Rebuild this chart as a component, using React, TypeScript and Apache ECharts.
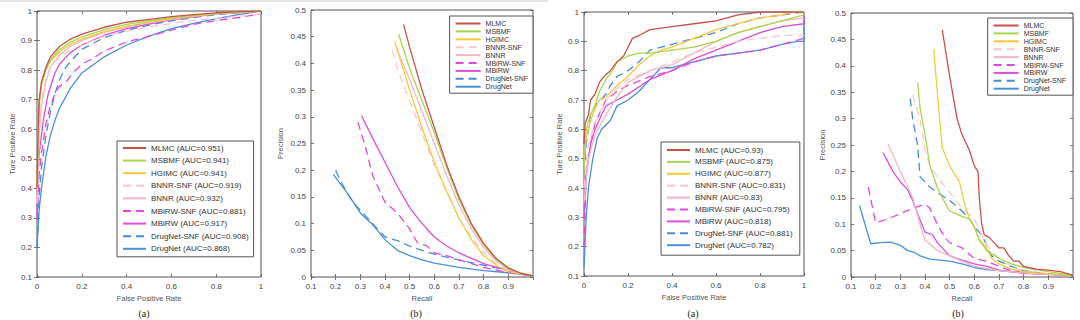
import React, { useEffect, useRef } from "react";
import * as echarts from "echarts";

const methods = ["MLMC", "MSBMF", "HGIMC", "BNNR-SNF", "BNNR", "MBiRW-SNF", "MBiRW", "DrugNet-SNF", "DrugNet"];
const colors = ["#c8504b", "#a8d64c", "#f5c83e", "#f5c8cf", "#f3b6c4", "#e347de", "#dd4fd8", "#4a8ad6", "#4b90d9"];
const dashed = [false, false, false, true, false, true, false, true, false];
const aucLeft = ["0.951", "0.941", "0.941", "0.919", "0.932", "0.881", "0.917", "0.908", "0.868"];
const aucRight = ["0.93", "0.875", "0.877", "0.831", "0.83", "0.795", "0.818", "0.881", "0.782"];

// Panel 1: ROC (left dataset)
const rocL_MLMC = [[0,0.4],[0.005,0.6],[0.01,0.7],[0.02,0.76],[0.04,0.81],[0.06,0.845],[0.1,0.88],[0.15,0.905],[0.2,0.922],[0.3,0.945],[0.4,0.962],[0.5,0.972],[0.6,0.981],[0.7,0.988],[0.8,0.994],[0.9,0.998],[1,1]];
const rocL_MSBMF = [[0,0.4],[0.005,0.58],[0.01,0.68],[0.02,0.75],[0.04,0.8],[0.06,0.835],[0.1,0.87],[0.15,0.895],[0.2,0.912],[0.3,0.937],[0.4,0.955],[0.5,0.967],[0.6,0.977],[0.7,0.985],[0.8,0.992],[0.9,0.997],[1,1]];
const rocL_HGIMC = [[0,0.4],[0.005,0.6],[0.01,0.69],[0.02,0.755],[0.04,0.8],[0.06,0.83],[0.1,0.862],[0.15,0.888],[0.2,0.905],[0.3,0.93],[0.4,0.948],[0.5,0.962],[0.6,0.974],[0.7,0.984],[0.8,0.991],[0.9,0.996],[1,1]];
const rocL_BNNRSNF = [[0,0.35],[0.01,0.6],[0.02,0.7],[0.04,0.77],[0.06,0.81],[0.1,0.845],[0.15,0.87],[0.2,0.885],[0.3,0.915],[0.4,0.932],[0.5,0.946],[0.6,0.958],[0.7,0.968],[0.8,0.975],[0.9,0.982],[1,0.99]];
const rocL_BNNR = [[0,0.35],[0.01,0.58],[0.02,0.68],[0.04,0.76],[0.06,0.81],[0.1,0.85],[0.15,0.88],[0.2,0.9],[0.3,0.928],[0.4,0.946],[0.5,0.96],[0.6,0.972],[0.7,0.982],[0.8,0.99],[0.9,0.996],[1,1]];
const rocL_MBiRWSNF = [[0,0.3],[0.01,0.45],[0.02,0.52],[0.04,0.62],[0.06,0.68],[0.08,0.72],[0.1,0.745],[0.13,0.76],[0.16,0.79],[0.2,0.82],[0.25,0.84],[0.3,0.865],[0.4,0.895],[0.5,0.915],[0.6,0.935],[0.7,0.955],[0.8,0.968],[0.9,0.978],[1,0.99]];
const rocL_MBiRW = [[0,0.3],[0.005,0.45],[0.01,0.52],[0.03,0.64],[0.05,0.72],[0.08,0.79],[0.1,0.82],[0.15,0.86],[0.2,0.885],[0.3,0.918],[0.4,0.94],[0.5,0.956],[0.6,0.97],[0.7,0.98],[0.8,0.99],[0.9,0.995],[1,1]];
const rocL_DrugNetSNF = [[0,0.2],[0.01,0.38],[0.02,0.47],[0.04,0.58],[0.06,0.66],[0.08,0.72],[0.1,0.765],[0.12,0.8],[0.15,0.83],[0.2,0.87],[0.3,0.91],[0.4,0.935],[0.5,0.952],[0.6,0.967],[0.7,0.978],[0.8,0.988],[0.9,0.995],[1,1]];
const rocL_DrugNet = [[0,0.2],[0.01,0.33],[0.02,0.4],[0.04,0.51],[0.06,0.58],[0.08,0.63],[0.1,0.67],[0.15,0.74],[0.2,0.79],[0.3,0.845],[0.4,0.885],[0.5,0.915],[0.6,0.94],[0.7,0.958],[0.8,0.974],[0.9,0.988],[1,1]];

// Panel 2: PR (left dataset)
const prL_MLMC = [[0.475,0.473],[0.5,0.43],[0.55,0.35],[0.6,0.28],[0.65,0.21],[0.7,0.15],[0.75,0.1],[0.8,0.063],[0.85,0.035],[0.9,0.017],[0.95,0.007],[1,0.002]];
const prL_MSBMF = [[0.455,0.455],[0.5,0.39],[0.55,0.33],[0.6,0.27],[0.65,0.205],[0.7,0.145],[0.75,0.097],[0.8,0.06],[0.85,0.033],[0.9,0.016],[0.95,0.007],[1,0.002]];
const prL_HGIMC = [[0.44,0.44],[0.5,0.35],[0.55,0.28],[0.6,0.215],[0.65,0.16],[0.7,0.11],[0.75,0.07],[0.8,0.04],[0.85,0.022],[0.9,0.01],[1,0.002]];
const prL_BNNRSNF = [[0.43,0.425],[0.45,0.39],[0.5,0.33],[0.55,0.27],[0.6,0.21],[0.65,0.16],[0.7,0.11],[0.75,0.075],[0.8,0.045],[0.85,0.025],[0.9,0.012],[1,0.002]];
const prL_BNNR = [[0.445,0.43],[0.5,0.37],[0.55,0.31],[0.6,0.25],[0.65,0.19],[0.7,0.135],[0.75,0.09],[0.8,0.055],[0.85,0.03],[0.9,0.014],[1,0.002]];
const prL_MBiRWSNF = [[0.29,0.29],[0.32,0.245],[0.35,0.19],[0.4,0.14],[0.45,0.12],[0.5,0.09],[0.53,0.065],[0.57,0.058],[0.6,0.045],[0.65,0.04],[0.7,0.032],[0.75,0.025],[0.8,0.018],[0.9,0.008],[1,0.002]];
const prL_MBiRW = [[0.305,0.302],[0.35,0.26],[0.4,0.215],[0.45,0.17],[0.5,0.13],[0.55,0.1],[0.6,0.075],[0.65,0.058],[0.7,0.045],[0.75,0.035],[0.8,0.025],[0.9,0.012],[1,0.002]];
const prL_DrugNetSNF = [[0.2,0.2],[0.22,0.18],[0.25,0.155],[0.27,0.14],[0.3,0.125],[0.35,0.1],[0.4,0.075],[0.45,0.068],[0.5,0.058],[0.55,0.05],[0.6,0.043],[0.65,0.037],[0.7,0.032],[0.8,0.022],[0.9,0.012],[1,0.002]];
const prL_DrugNet = [[0.19,0.192],[0.25,0.155],[0.3,0.12],[0.35,0.098],[0.4,0.07],[0.45,0.05],[0.5,0.04],[0.55,0.032],[0.6,0.026],[0.7,0.018],[0.8,0.012],[0.9,0.008],[1,0.002]];

// Panel 3: ROC (right dataset)
const rocR_MLMC = [[0,0.55],[0.005,0.62],[0.02,0.65],[0.03,0.7],[0.05,0.72],[0.07,0.76],[0.09,0.78],[0.12,0.8],[0.15,0.83],[0.18,0.85],[0.2,0.88],[0.22,0.91],[0.25,0.92],[0.3,0.94],[0.4,0.95],[0.5,0.96],[0.6,0.97],[0.7,0.99],[0.8,1],[1,1]];
const rocR_MSBMF = [[0,0.45],[0.01,0.6],[0.03,0.65],[0.05,0.68],[0.07,0.73],[0.1,0.77],[0.13,0.8],[0.15,0.83],[0.2,0.85],[0.25,0.86],[0.3,0.86],[0.4,0.87],[0.5,0.88],[0.6,0.9],[0.7,0.93],[0.8,0.95],[0.9,0.97],[1,0.99],[1,1]];
const rocR_HGIMC = [[0,0.5],[0.01,0.57],[0.03,0.63],[0.05,0.67],[0.07,0.7],[0.1,0.71],[0.15,0.75],[0.2,0.78],[0.25,0.82],[0.3,0.85],[0.35,0.87],[0.4,0.88],[0.5,0.91],[0.6,0.94],[0.7,0.96],[0.8,0.98],[0.9,0.99],[0.95,1],[1,1]];
const rocR_BNNRSNF = [[0,0.4],[0.02,0.55],[0.05,0.62],[0.1,0.7],[0.15,0.74],[0.2,0.77],[0.3,0.8],[0.4,0.83],[0.5,0.86],[0.6,0.88],[0.7,0.9],[0.8,0.91],[0.9,0.92],[1,0.92]];
const rocR_BNNR = [[0,0.35],[0.02,0.5],[0.05,0.58],[0.1,0.65],[0.15,0.71],[0.2,0.76],[0.3,0.8],[0.4,0.82],[0.5,0.86],[0.6,0.9],[0.7,0.93],[0.8,0.95],[0.9,0.97],[1,0.98]];
const rocR_MBiRWSNF = [[0,0.2],[0.01,0.45],[0.03,0.55],[0.05,0.62],[0.08,0.67],[0.1,0.7],[0.15,0.73],[0.2,0.75],[0.3,0.78],[0.4,0.8],[0.5,0.83],[0.6,0.85],[0.7,0.86],[0.8,0.87],[0.9,0.89],[1,0.91]];
const rocR_MBiRW = [[0,0.3],[0.01,0.45],[0.03,0.55],[0.05,0.6],[0.08,0.65],[0.1,0.68],[0.15,0.7],[0.2,0.72],[0.3,0.77],[0.4,0.8],[0.5,0.84],[0.6,0.87],[0.7,0.9],[0.8,0.93],[0.9,0.95],[1,0.96],[1,1]];
const rocR_DrugNetSNF = [[0,0.45],[0.01,0.55],[0.03,0.65],[0.05,0.68],[0.1,0.72],[0.12,0.75],[0.15,0.78],[0.2,0.8],[0.25,0.83],[0.3,0.87],[0.4,0.89],[0.5,0.91],[0.6,0.93],[0.7,0.96],[0.8,0.98],[0.9,0.99],[1,1]];
const rocR_DrugNet = [[0,0.13],[0.01,0.3],[0.02,0.4],[0.04,0.5],[0.06,0.57],[0.08,0.6],[0.12,0.63],[0.15,0.68],[0.2,0.7],[0.25,0.73],[0.3,0.77],[0.35,0.81],[0.4,0.81],[0.5,0.83],[0.6,0.85],[0.7,0.86],[0.8,0.87],[0.9,0.89],[0.97,0.9],[1,0.9],[1,1]];

// Panel 4: PR (right dataset)
const prR_MLMC = [[0.47,0.468],[0.5,0.38],[0.53,0.3],[0.55,0.27],[0.58,0.24],[0.6,0.21],[0.615,0.2],[0.62,0.15],[0.63,0.1],[0.64,0.08],[0.66,0.075],[0.68,0.065],[0.7,0.055],[0.72,0.055],[0.74,0.04],[0.76,0.03],[0.78,0.03],[0.8,0.02],[0.85,0.015],[0.9,0.013],[0.95,0.01],[1,0.003]];
const prR_MSBMF = [[0.37,0.368],[0.38,0.32],[0.4,0.27],[0.42,0.21],[0.45,0.17],[0.47,0.15],[0.5,0.125],[0.55,0.115],[0.58,0.11],[0.6,0.095],[0.62,0.07],[0.65,0.05],[0.7,0.035],[0.75,0.025],[0.8,0.018],[0.9,0.01],[1,0.003]];
const prR_HGIMC = [[0.435,0.432],[0.45,0.35],[0.47,0.245],[0.5,0.21],[0.54,0.18],[0.56,0.14],[0.58,0.11],[0.6,0.095],[0.62,0.07],[0.65,0.055],[0.67,0.035],[0.7,0.025],[0.75,0.015],[0.8,0.01],[0.9,0.006],[1,0.003]];
const prR_BNNRSNF = [[0.35,0.345],[0.38,0.3],[0.4,0.24],[0.42,0.21],[0.45,0.19],[0.5,0.16],[0.55,0.13],[0.6,0.11],[0.63,0.08],[0.65,0.06],[0.7,0.035],[0.75,0.02],[0.8,0.012],[0.9,0.006],[1,0.003]];
const prR_BNNR = [[0.25,0.252],[0.3,0.2],[0.35,0.15],[0.38,0.1],[0.4,0.07],[0.45,0.05],[0.5,0.04],[0.55,0.03],[0.6,0.02],[0.7,0.012],[0.8,0.008],[0.9,0.005],[1,0.003]];
const prR_MBiRWSNF = [[0.17,0.17],[0.2,0.103],[0.25,0.11],[0.3,0.12],[0.35,0.13],[0.4,0.138],[0.42,0.13],[0.45,0.1],[0.48,0.075],[0.5,0.065],[0.55,0.055],[0.6,0.035],[0.65,0.03],[0.7,0.02],[0.75,0.012],[0.8,0.008],[0.9,0.005],[1,0.003]];
const prR_MBiRW = [[0.23,0.235],[0.27,0.2],[0.3,0.18],[0.33,0.165],[0.35,0.145],[0.37,0.12],[0.4,0.085],[0.43,0.08],[0.45,0.065],[0.48,0.05],[0.5,0.04],[0.55,0.032],[0.6,0.025],[0.65,0.02],[0.7,0.013],[0.8,0.007],[0.9,0.005],[1,0.003]];
const prR_DrugNetSNF = [[0.34,0.338],[0.35,0.3],[0.37,0.25],[0.38,0.19],[0.42,0.17],[0.45,0.16],[0.5,0.145],[0.55,0.125],[0.58,0.11],[0.6,0.095],[0.63,0.08],[0.65,0.06],[0.67,0.04],[0.7,0.03],[0.75,0.02],[0.8,0.012],[0.9,0.006],[1,0.003]];
const prR_DrugNet = [[0.135,0.135],[0.18,0.063],[0.22,0.065],[0.26,0.066],[0.3,0.06],[0.33,0.05],[0.36,0.046],[0.38,0.04],[0.42,0.034],[0.46,0.032],[0.5,0.03],[0.55,0.025],[0.6,0.018],[0.65,0.014],[0.7,0.012],[0.8,0.008],[0.9,0.005],[1,0.003]];

const panelCurves = [
  [rocL_MLMC, rocL_MSBMF, rocL_HGIMC, rocL_BNNRSNF, rocL_BNNR, rocL_MBiRWSNF, rocL_MBiRW, rocL_DrugNetSNF, rocL_DrugNet],
  [prL_MLMC, prL_MSBMF, prL_HGIMC, prL_BNNRSNF, prL_BNNR, prL_MBiRWSNF, prL_MBiRW, prL_DrugNetSNF, prL_DrugNet],
  [rocR_MLMC, rocR_MSBMF, rocR_HGIMC, rocR_BNNRSNF, rocR_BNNR, rocR_MBiRWSNF, rocR_MBiRW, rocR_DrugNetSNF, rocR_DrugNet],
  [prR_MLMC, prR_MSBMF, prR_HGIMC, prR_BNNRSNF, prR_BNNR, prR_MBiRWSNF, prR_MBiRW, prR_DrugNetSNF, prR_DrugNet],
];

const FONT = "Liberation Sans, Arial, sans-serif";
const SERIF = "Liberation Serif, Times New Roman, serif";

export default function App() {
  const ref = useRef<HTMLDivElement>(null);
  useEffect(() => {
    if (!ref.current) return;
    const chart = echarts.init(ref.current, undefined, { renderer: "svg" });

    const grids = [
      { left: 37, top: 11, width: 224, height: 266 },
      { left: 311, top: 10, width: 222, height: 267 },
      { left: 584, top: 12, width: 220, height: 264 },
      { left: 851, top: 13, width: 222, height: 264 },
    ];
    const isRoc = [true, false, true, false];
    const yGaps = [21, 27, 20, 24];

    const seriesNames = (p: number) =>
      methods.map((m, i) =>
        p === 0 ? `${m} (AUC=${aucLeft[i]})` : p === 2 ? `${m} (AUC=${aucRight[i]}) ` : p === 1 ? m : `${m} `
      );

    const xAxes: any[] = [];
    const yAxes: any[] = [];
    const labelStyle = { fontSize: 8, color: "#444", fontFamily: FONT };
    const tick = { show: true, inside: true, length: 3, lineStyle: { color: "#555", width: 0.8 } };
    for (let p = 0; p < 4; p++) {
      const xr = isRoc[p] ? { min: 0, max: 1, interval: 0.2 } : { min: 0.1, max: 1, interval: 0.1 };
      const yr = isRoc[p] ? { min: 0.1, max: 1, interval: 0.1 } : { min: 0, max: 0.5, interval: 0.05 };
      xAxes.push({
        type: "value", gridIndex: p, ...xr, position: "bottom",
        axisLine: { show: false }, axisTick: tick, splitLine: { show: false },
        axisLabel: { ...labelStyle, margin: 5, showMaxLabel: isRoc[p] },
        name: isRoc[p] ? "False Positive Rate" : "Recall",
        nameLocation: "middle", nameGap: 17,
        nameTextStyle: { fontSize: 7.5, color: "#555", fontFamily: FONT },
      });
      yAxes.push({
        type: "value", gridIndex: p, ...yr, position: "left",
        axisLine: { show: false }, axisTick: tick, splitLine: { show: false },
        axisLabel: { ...labelStyle, margin: 5 },
        name: isRoc[p] ? "Ture Positive Rate" : "Precision",
        nameLocation: "middle", nameGap: yGaps[p], nameRotate: 90,
        nameTextStyle: { fontSize: 7.5, color: "#555", fontFamily: FONT },
      });
    }
    for (let p = 0; p < 4; p++) {
      const xr = isRoc[p] ? { min: 0, max: 1, interval: 0.2 } : { min: 0.1, max: 1, interval: 0.1 };
      const yr = isRoc[p] ? { min: 0.1, max: 1, interval: 0.1 } : { min: 0, max: 0.5, interval: 0.05 };
      xAxes.push({
        type: "value", gridIndex: p, ...xr, position: "top",
        axisLine: { show: false }, axisTick: tick, splitLine: { show: false }, axisLabel: { show: false },
      });
      yAxes.push({
        type: "value", gridIndex: p, ...yr, position: "right",
        axisLine: { show: false }, axisTick: tick, splitLine: { show: false }, axisLabel: { show: false },
      });
    }

    const series: any[] = [];
    for (let p = 0; p < 4; p++) {
      const names = seriesNames(p);
      panelCurves[p].forEach((data, i) => {
        series.push({
          type: "line", name: names[i], xAxisIndex: p, yAxisIndex: p,
          data, symbol: "none", showSymbol: false, smooth: false,
          color: colors[i],
          lineStyle: { color: colors[i], width: 1.3, type: dashed[i] ? [8, 5] : "solid" },
          itemStyle: { color: colors[i] },
          z: 10 - i,
        });
      });
    }

    const legendBase = {
      orient: "vertical", borderColor: "#555", borderWidth: 1, backgroundColor: "#fff",
      selectedMode: false, itemWidth: 23,
      itemStyle: { opacity: 0, borderWidth: 0 },
    };
    const legends = [
      { ...legendBase, left: 117, top: 141, padding: [3, 5, 4, 5], itemHeight: 8, itemGap: 4.6,
        textStyle: { fontSize: 8, lineHeight: 8, color: "#333", fontFamily: FONT }, data: seriesNames(0) },
      { ...legendBase, right: 547, top: 16, padding: [4, 5, 3, 5], itemHeight: 7, itemGap: 0.9, itemWidth: 25,
        textStyle: { fontSize: 7, lineHeight: 7, color: "#333", fontFamily: FONT }, data: seriesNames(1) },
      { ...legendBase, left: 661, top: 142, padding: [4, 5, 6, 5], itemHeight: 8, itemGap: 3.9,
        textStyle: { fontSize: 8, lineHeight: 8, color: "#333", fontFamily: FONT }, data: seriesNames(2) },
      { ...legendBase, right: 7, top: 18, padding: [4, 5, 3, 5], itemHeight: 7, itemGap: 0.9, itemWidth: 25,
        textStyle: { fontSize: 7, lineHeight: 7, color: "#333", fontFamily: FONT }, data: seriesNames(3) },
    ];

    const captions = [
      { t: "(a)", x: 144 }, { t: "(b)", x: 416 }, { t: "(a)", x: 693 }, { t: "(b)", x: 958 },
    ];

    chart.setOption({
      animation: false,
      backgroundColor: "#fff",
      grid: grids.map((g) => ({ ...g, show: true, borderColor: "#555", borderWidth: 1, backgroundColor: "transparent" })),
      xAxis: xAxes,
      yAxis: yAxes,
      legend: legends,
      series,
      graphic: [
        { type: "line", shape: { x1: 0, y1: 1, x2: 548, y2: 1 }, style: { stroke: "#ccc", lineWidth: 1 } },
        ...captions.map((c) => ({
          type: "text", x: c.x, y: 313,
          style: { text: c.t, fontSize: 10, fontFamily: SERIF, fill: "#222", textAlign: "center", textVerticalAlign: "middle" },
        })),
      ],
    });
    return () => chart.dispose();
  }, []);

  return <div ref={ref} style={{ position: "fixed", left: 0, top: 0, width: 1080, height: 320 }} />;
}
